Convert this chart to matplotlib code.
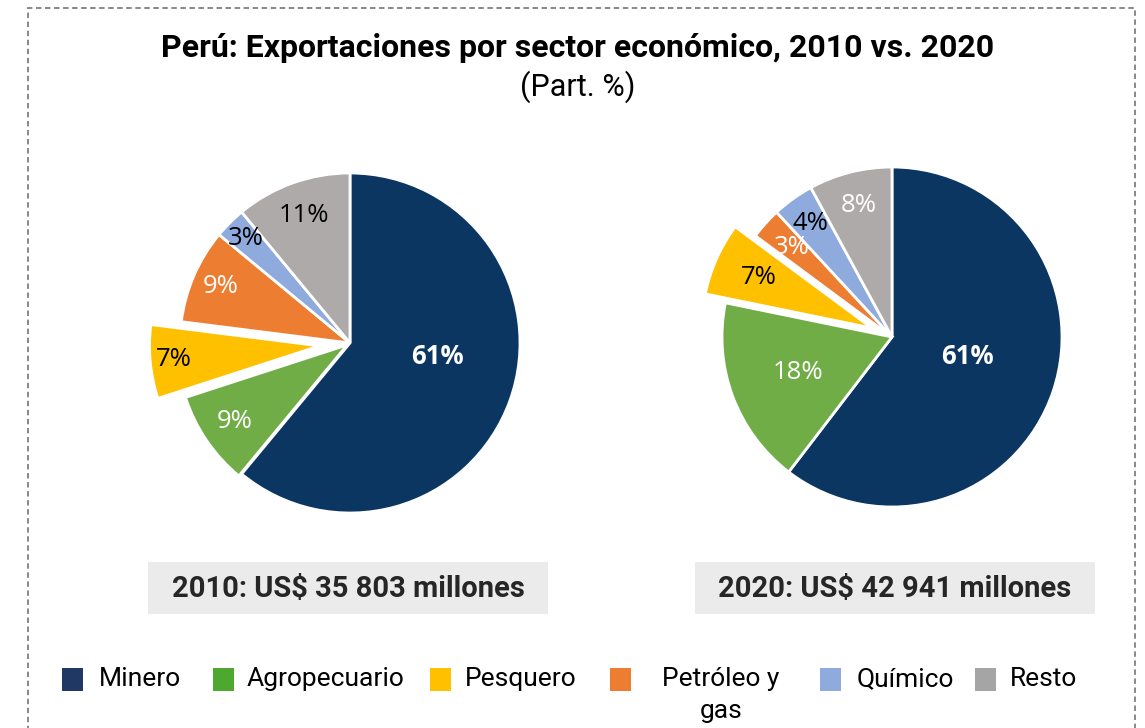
import matplotlib.pyplot as plt
import numpy as np
from matplotlib.patches import Rectangle

# data
sectores = ["Minero", "Agropecuario", "Pesquero", "Petróleo y\ngas", "Químico", "Resto"]
part_2010 = [61, 9, 7, 9, 3, 11]
part_2020 = [61, 18, 7, 3, 4, 8]
total_2010 = "2010: US$ 35 803 millones"
total_2020 = "2020: US$ 42 941 millones"

colores = ["#0B3662", "#70AD47", "#FFC000", "#ED7D31", "#8FAADC", "#AEAAAA"]
legend_colores = ["#203864", "#4EA72E", "#FFC000", "#ED7D31", "#8FAADC", "#A5A5A5"]

# label styling per wedge: colour, distance (fraction of radius), angle shift (deg)
lab_col_2010 = ["white", "white", "black", "white", "black", "black"]
lab_col_2020 = ["white", "white", "black", "white", "black", "white"]
lab_dist_2010 = [0.52, 0.80, 0.86, 0.83, 0.87, 0.80]
lab_dist_2020 = [0.46, 0.59, 0.73, 0.79, 0.82, 0.80]
lab_shift_2010 = [11, 0, 0, 0, 0, 0]
lab_shift_2020 = [4, 0, 0, 0, 0, 0]
explode_2010 = [0, 0.02, 0.18, 0, 0, 0]
explode_2020 = [0, 0, 0.13, 0, 0, 0]

W, H = 1145, 728
fig = plt.figure(figsize=(W / 100, H / 100), dpi=100)

# dashed frame
fig.patches.append(Rectangle((28 / W, -0.05), (1135 - 28) / W, 1.05 - 8 / H,
                             transform=fig.transFigure, fill=False,
                             edgecolor="#7f7f7f", linestyle=(0, (3, 2)), linewidth=1.3))

fig.text(578 / W, 1 - 48 / H, "Perú: Exportaciones por sector económico, 2010 vs. 2020",
         ha="center", va="center", fontsize=23, fontweight="bold", family="Roboto")
fig.text(578 / W, 1 - 87 / H, "(Part. %)", ha="center", va="center",
         fontsize=22, family="Roboto")

R = 170
half = 1.25


def draw_pie(cx, cy, vals, explode, lab_col, lab_dist, lab_shift):
    ax = fig.add_axes([(cx - half * R) / W, (H - cy - half * R) / H,
                       2 * half * R / W, 2 * half * R / H])
    wedges, _ = ax.pie(vals, colors=colores, startangle=90, counterclock=False,
                       explode=explode, radius=1,
                       wedgeprops=dict(edgecolor="white", linewidth=2))
    for i, w in enumerate(wedges):
        ang = np.deg2rad((w.theta1 + w.theta2) / 2 + lab_shift[i])
        d = lab_dist[i] + explode[i]
        ax.text(d * np.cos(ang), d * np.sin(ang), f"{vals[i]}%", ha="center", va="center",
                color=lab_col[i], fontsize=18.5, family="Open Sans",
                fontweight="bold" if i == 0 else "normal")
    ax.set_xlim(-half, half)
    ax.set_ylim(-half, half)
    ax.set_aspect("equal")
    ax.axis("off")


draw_pie(350, 343, part_2010, explode_2010, lab_col_2010, lab_dist_2010, lab_shift_2010)
draw_pie(892, 337, part_2020, explode_2020, lab_col_2020, lab_dist_2020, lab_shift_2020)

# totals boxes
for x0, txt in [(148, total_2010), (695, total_2020)]:
    fig.patches.append(Rectangle((x0 / W, 1 - 614 / H), 400 / W, 52 / H,
                                 transform=fig.transFigure, facecolor="#EBEBEB",
                                 edgecolor="none"))
    fig.text((x0 + 200) / W, 1 - 589 / H, txt, ha="center", va="center",
             fontsize=21, fontweight="bold", family="Roboto", color="#262626")

# legend drawn by hand so the two-line label is top-aligned like the original
marker_x = [62, 213, 430, 610, 820, 975]
text_x = [99, 247, 465, 721, 857, 1010]
text_ha = ["left", "left", "left", "center", "left", "left"]
for mx, tx, ha, col, lab in zip(marker_x, text_x, text_ha, legend_colores, sectores):
    fig.patches.append(Rectangle((mx / W, 1 - 691 / H), 21 / W, 23 / H,
                                 transform=fig.transFigure, facecolor=col,
                                 edgecolor="none"))
    fig.text(tx / W, 1 - 667 / H, lab, ha=ha, va="top", multialignment="center",
             fontsize=19, family="Roboto", linespacing=1.4)

fig.savefig("out.png", dpi=100)
